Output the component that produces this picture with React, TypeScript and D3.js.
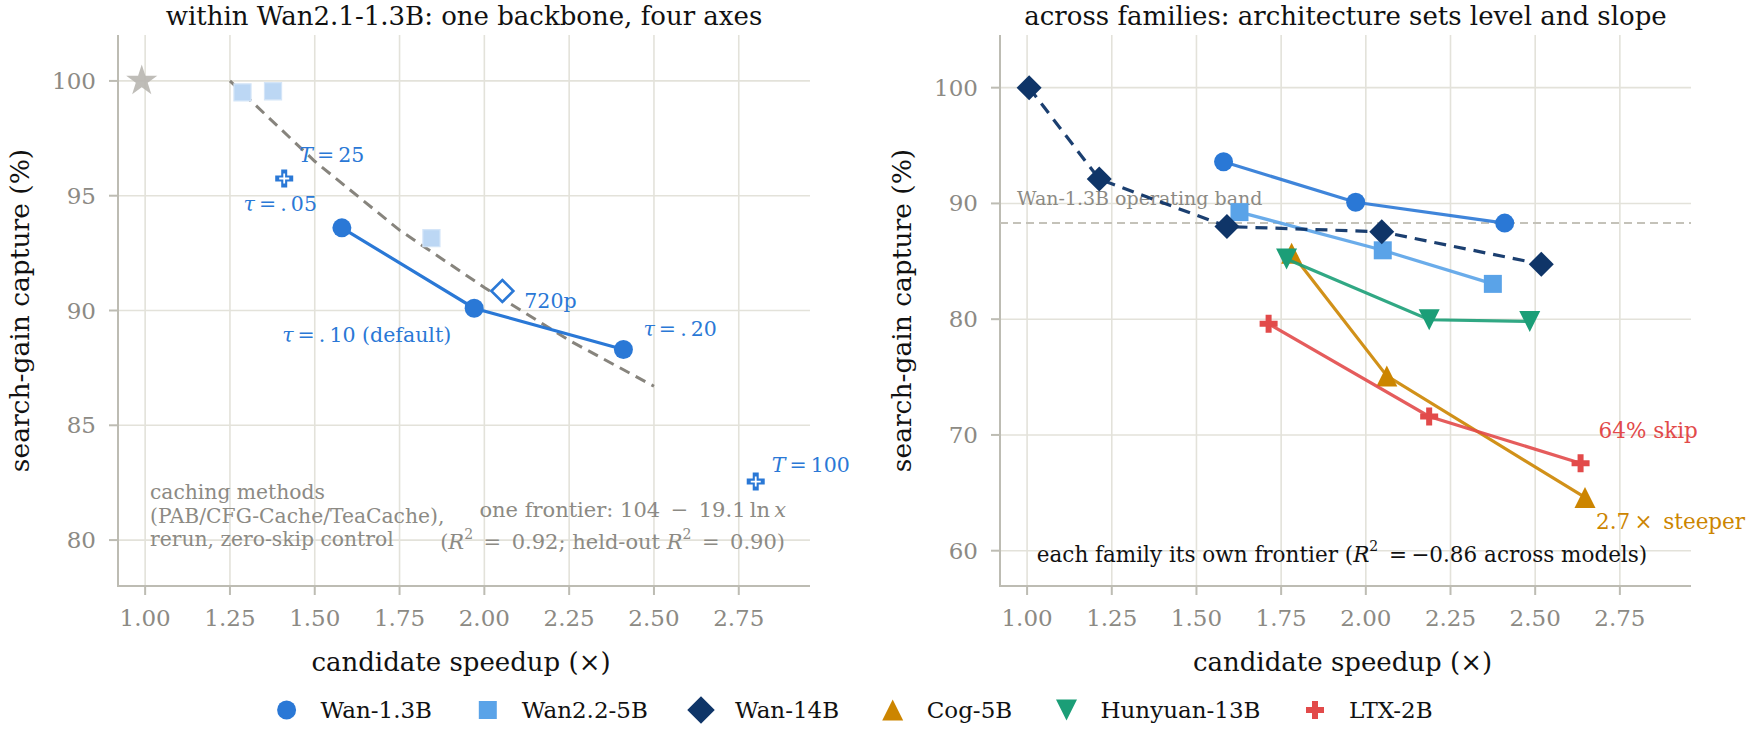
import * as d3 from "d3";

const W = 1754;
const H = 739;
const FONT = "'DejaVu Serif', serif";

const GRID = "#e3e2da";
const SPINE = "#bdbcb3";
const TICK_TXT = "#8c8a84";
const NOTE = "#8c8a84";

const C13 = "#2a78d6";
const C5 = "#5aa3e8";
const C14 = "#0f3568";
const CCOG = "#cc8500";
const CHUN = "#1b9e77";
const CLTX = "#e24a4a";

// shared x ticks
const xTicks = [1.0, 1.25, 1.5, 1.75, 2.0, 2.25, 2.5, 2.75];
const leftYTicks = [80, 85, 90, 95, 100];
const rightYTicks = [60, 70, 80, 90, 100];

// left panel: within Wan2.1-1.3B
const tauSpeed = [1.58, 1.97, 2.41];
const tauCapture = [93.6, 90.1, 88.3];
const cacheSpeed = [1.287, 1.377, 1.844];
const cacheCapture = [99.5, 99.55, 93.15];
const stepSpeed = [1.41, 2.8];
const stepCapture = [95.75, 82.55];
const resSpeed = [2.053];
const resCapture = [90.85];
const baseSpeed = [0.99];
const baseCapture = [100];
const fitSpeed = [1.25, 1.5, 1.75, 2.0, 2.25, 2.5];
const fitCapture = [100, 96.5, 93.5, 91.0, 88.7, 86.7];

// right panel: across families
const families = ["Wan-1.3B", "Wan2.2-5B", "Wan-14B", "Cog-5B", "Hunyuan-13B", "LTX-2B"];
const wan13X = [1.58, 1.97, 2.41];
const wan13Y = [93.6, 90.1, 88.3];
const wan5X = [1.627, 2.05, 2.375];
const wan5Y = [89.25, 85.95, 83.05];
const wan14X = [1.006, 1.213, 1.59, 2.047, 2.518];
const wan14Y = [100, 92.1, 88.0, 87.55, 84.75];
const cogX = [1.781, 2.062, 2.647];
const cogY = [85.7, 75.1, 64.6];
const hunX = [1.766, 2.187, 2.484];
const hunY = [85.2, 79.95, 79.8];
const ltxX = [1.713, 2.187, 2.634];
const ltxY = [79.6, 71.6, 67.55];
const bandLevel = 88.3;

const famColors = [C13, C5, C14, CCOG, CHUN, CLTX];
const famMarkers = ["circle", "square", "diamond", "up", "down", "plus"];

const marker = (kind: string, s = 1) => {
  switch (kind) {
    case "circle": {
      const r = 9.5 * s;
      return `M${-r},0A${r},${r} 0 1,0 ${r},0A${r},${r} 0 1,0 ${-r},0Z`;
    }
    case "square": {
      const h = 9 * s;
      return `M${-h},${-h}H${h}V${h}H${-h}Z`;
    }
    case "diamond": {
      const h = 12.5 * s;
      return `M0,${-h}L${h},0L0,${h}L${-h},0Z`;
    }
    case "up": {
      const h = 10.5 * s;
      return `M0,${-h}L${h},${h}L${-h},${h}Z`;
    }
    case "down": {
      const h = 10.5 * s;
      return `M0,${h}L${h},${-h}L${-h},${-h}Z`;
    }
    case "plus": {
      const a = 9 * s;
      const b = 3 * s;
      return `M${-b},${-a}H${b}V${-b}H${a}V${b}H${b}V${a}H${-b}V${b}H${-a}V${-b}H${-b}Z`;
    }
    case "star": {
      const star = d3.symbol(d3.symbolStar, 300 * s * s)();
      return star || "";
    }
  }
  return "";
};

const line = (xs: number[], ys: number[], sx: any, sy: any) =>
  d3.line<number>().x((_, i) => sx(xs[i])).y((v) => sy(v))(ys) || "";

// mathtext-ish "=" with wider spacing
const Eq = ({ children }: any) => <tspan>{"\u2009=\u2009"}{children}</tspan>;

const Axes = ({ sx, sy, yTicks, left, right, top, bottom, title, ylx }: any) => (
  <g fontFamily={FONT}>
    {xTicks.map((t) => (
      <line key={"gx" + t} x1={sx(t)} x2={sx(t)} y1={top} y2={bottom} stroke={GRID} strokeWidth={1.6} />
    ))}
    {yTicks.map((t: number) => (
      <line key={"gy" + t} x1={left} x2={right} y1={sy(t)} y2={sy(t)} stroke={GRID} strokeWidth={1.6} />
    ))}
    <line x1={left} x2={left} y1={top} y2={bottom + 1} stroke={SPINE} strokeWidth={2} />
    <line x1={left - 1} x2={right} y1={bottom} y2={bottom} stroke={SPINE} strokeWidth={2} />
    {xTicks.map((t) => (
      <g key={"tx" + t}>
        <line x1={sx(t)} x2={sx(t)} y1={bottom} y2={bottom + 9} stroke={SPINE} strokeWidth={2} />
        <text x={sx(t)} y={618} textAnchor="middle" dominantBaseline="central" fontSize={23} fill={TICK_TXT}>
          {d3.format(".2f")(t)}
        </text>
      </g>
    ))}
    {yTicks.map((t: number) => (
      <g key={"ty" + t}>
        <line x1={left - 9} x2={left} y1={sy(t)} y2={sy(t)} stroke={SPINE} strokeWidth={2} />
        <text x={left - 22} y={sy(t)} textAnchor="end" dominantBaseline="central" fontSize={23} fill={TICK_TXT}>
          {t}
        </text>
      </g>
    ))}
    <text x={(left + right) / 2} y={16} textAnchor="middle" dominantBaseline="central" fontSize={26} fill="#111">
      {title}
    </text>
    <text x={(left + right) / 2 - 3} y={662} textAnchor="middle" dominantBaseline="central" fontSize={26} fill="#111">
      candidate speedup (×)
    </text>
    <text
      transform={`translate(${ylx},${(top + bottom) / 2}) rotate(-90)`}
      textAnchor="middle"
      dominantBaseline="central"
      fontSize={26.5}
      fill="#111"
    >
      search-gain capture (%)
    </text>
  </g>
);

export default function App() {
  const top = 35;
  const bottom = 586;
  const lx = d3.scaleLinear().domain([0.92, 2.96]).range([118, 810]);
  const ly = d3.scaleLinear().domain([78, 102]).range([bottom, top]);
  const rx = d3.scaleLinear().domain([0.92, 2.96]).range([1000, 1691]);
  const ry = d3.scaleLinear().domain([56.95, 104.55]).range([bottom, top]);

  const famX = [wan13X, wan5X, wan14X, cogX, hunX, ltxX];
  const famY = [wan13Y, wan5Y, wan14Y, cogY, hunY, ltxY];

  const legendX = [286.6, 487.8, 701, 892.7, 1066.5, 1315];

  const at = (sx: any, sy: any, x: number, y: number) => `translate(${sx(x)},${sy(y)})`;

  return (
    <svg
      width={W}
      height={H}
      viewBox={`0 0 ${W} ${H}`}
      style={{ position: "absolute", left: 0, top: 0, background: "#fff" }}
      fontFamily={FONT}
    >
      <rect width={W} height={H} fill="#fff" />

      {/* ---------- left panel ---------- */}
      <Axes
        sx={lx}
        sy={ly}
        yTicks={leftYTicks}
        left={118}
        right={810}
        top={top}
        bottom={bottom}
        title="within Wan2.1-1.3B: one backbone, four axes"
        ylx={19}
      />
      <path d={line(fitSpeed, fitCapture, lx, ly)} fill="none" stroke="#87847d" strokeWidth={3} strokeDasharray="11 7" />
      {baseSpeed.map((v, i) => (
        <path key={"b" + i} d={marker("star")} transform={at(lx, ly, v, baseCapture[i])} fill="#b8b6b0" opacity={0.9} />
      ))}
      {cacheSpeed.map((v, i) => (
        <path
          key={"c" + i}
          d={marker("square", 0.95)}
          transform={at(lx, ly, v, cacheCapture[i])}
          fill="#bcd7f4"
          stroke="#d4e5f8"
          strokeWidth={1.2}
        />
      ))}
      <path d={line(tauSpeed, tauCapture, lx, ly)} fill="none" stroke={C13} strokeWidth={3.2} />
      {tauSpeed.map((v, i) => (
        <path key={"t" + i} d={marker("circle")} transform={at(lx, ly, v, tauCapture[i])} fill={C13} />
      ))}
      {stepSpeed.map((v, i) => (
        <g key={"s" + i} transform={at(lx, ly, v, stepCapture[i])}>
          <path d={marker("plus")} fill={C13} />
          <path d="M-5,0H5M0,-5V5" stroke="#fff" strokeWidth={1.8} />
        </g>
      ))}
      {resSpeed.map((v, i) => (
        <path
          key={"r" + i}
          d={marker("diamond", 0.88)}
          transform={at(lx, ly, v, resCapture[i])}
          fill="#fff"
          stroke={C13}
          strokeWidth={2.6}
        />
      ))}

      <g fill={C13} fontSize={20.5} dominantBaseline="central">
        <text x={lx(stepSpeed[0]) + 15} y={ly(stepCapture[0]) - 23}>
          <tspan fontStyle="italic">T</tspan>
          <Eq>25</Eq>
        </text>
        <text x={lx(stepSpeed[0]) - 4} y={ly(stepCapture[0]) + 26} textAnchor="middle">
          <tspan fontStyle="italic">τ</tspan>
          <Eq>.{"\u2009"}05</Eq>
        </text>
        <text x={lx(tauSpeed[1]) - 23} y={ly(tauCapture[1]) + 27} textAnchor="end">
          <tspan fontStyle="italic">τ</tspan>
          <Eq>.{"\u2009"}10 (default)</Eq>
        </text>
        <text x={lx(tauSpeed[2]) + 20} y={ly(tauCapture[2]) - 21}>
          <tspan fontStyle="italic">τ</tspan>
          <Eq>.{"\u2009"}20</Eq>
        </text>
        <text x={lx(resSpeed[0]) + 22} y={ly(resCapture[0]) + 10}>
          720p
        </text>
        <text x={lx(stepSpeed[1]) + 16} y={ly(stepCapture[1]) - 17}>
          <tspan fontStyle="italic">T</tspan>
          <Eq>100</Eq>
        </text>
      </g>

      <g fill={NOTE} fontSize={20.3} dominantBaseline="central">
        <text x={150} y={492}>caching methods</text>
        <text x={150} y={515.5}>(PAB/CFG-Cache/TeaCache),</text>
        <text x={150} y={539}>rerun, zero-skip control</text>
      </g>
      <g fill={NOTE} fontSize={21} dominantBaseline="central" textAnchor="end">
        <text x={786} y={510}>
          one frontier: 104{"\u2002"}−{"\u2002"}19.1{"\u2009"}ln{"\u2009"}
          <tspan fontStyle="italic">x</tspan>
        </text>
        <text x={785} y={542}>
          (<tspan fontStyle="italic">R</tspan>
          <tspan fontSize={14} dy={-8}>2</tspan>
          <tspan dy={8}>{"\u2002"}={"\u2002"}0.92; held-out </tspan>
          <tspan fontStyle="italic">R</tspan>
          <tspan fontSize={14} dy={-8}>2</tspan>
          <tspan dy={8}>{"\u2002"}={"\u2002"}0.90)</tspan>
        </text>
      </g>

      {/* ---------- right panel ---------- */}
      <Axes
        sx={rx}
        sy={ry}
        yTicks={rightYTicks}
        left={1000}
        right={1691}
        top={top}
        bottom={bottom}
        title="across families: architecture sets level and slope"
        ylx={901}
      />
      <line
        x1={1000}
        x2={1691}
        y1={ry(bandLevel)}
        y2={ry(bandLevel)}
        stroke="#c4c2b9"
        strokeWidth={2}
        strokeDasharray="8 5"
      />
      <text x={1017} y={ry(90) - 5} fontSize={19} fill={NOTE} dominantBaseline="central">
        Wan-1.3B operating band
      </text>

      {families.map((f, k) => (
        <g key={f}>
          <path
            d={line(famX[k], famY[k], rx, ry)}
            fill="none"
            stroke={famColors[k]}
            strokeOpacity={k === 2 ? 0.95 : 0.9}
            strokeWidth={3.2}
            strokeDasharray={k === 2 ? "12 8" : undefined}
          />
          {famX[k].map((v, i) => (
            <path key={i} d={marker(famMarkers[k])} transform={at(rx, ry, v, famY[k][i])} fill={famColors[k]} />
          ))}
        </g>
      ))}

      <text x={rx(ltxX[2]) + 18} y={ry(ltxY[2]) - 33} fontSize={21.5} fill={CLTX} dominantBaseline="central">
        64% skip
      </text>
      <text x={rx(cogX[2]) + 11} y={ry(cogY[2]) + 24} fontSize={21.5} fill={CCOG} dominantBaseline="central">
        2.7{"\u2009"}×{"\u2002"}steeper
      </text>
      <text x={1342} y={554} fontSize={21.5} fill="#111" textAnchor="middle" dominantBaseline="central">
        each family its own frontier (<tspan fontStyle="italic">R</tspan>
        <tspan fontSize={14} dy={-8}>2</tspan>
        <tspan dy={8}>{"\u2002"}={"\u2009"}−0.86 across models)</tspan>
      </text>

      {/* ---------- legend ---------- */}
      {families.map((f, k) => (
        <g key={"lg" + f} transform={`translate(${legendX[k]},710)`}>
          <path d={marker(famMarkers[k], k === 2 ? 1.1 : 1)} fill={famColors[k]} />
          <text x={34} y={0} fontSize={23} fill="#111" dominantBaseline="central">
            {f}
          </text>
        </g>
      ))}
    </svg>
  );
}
